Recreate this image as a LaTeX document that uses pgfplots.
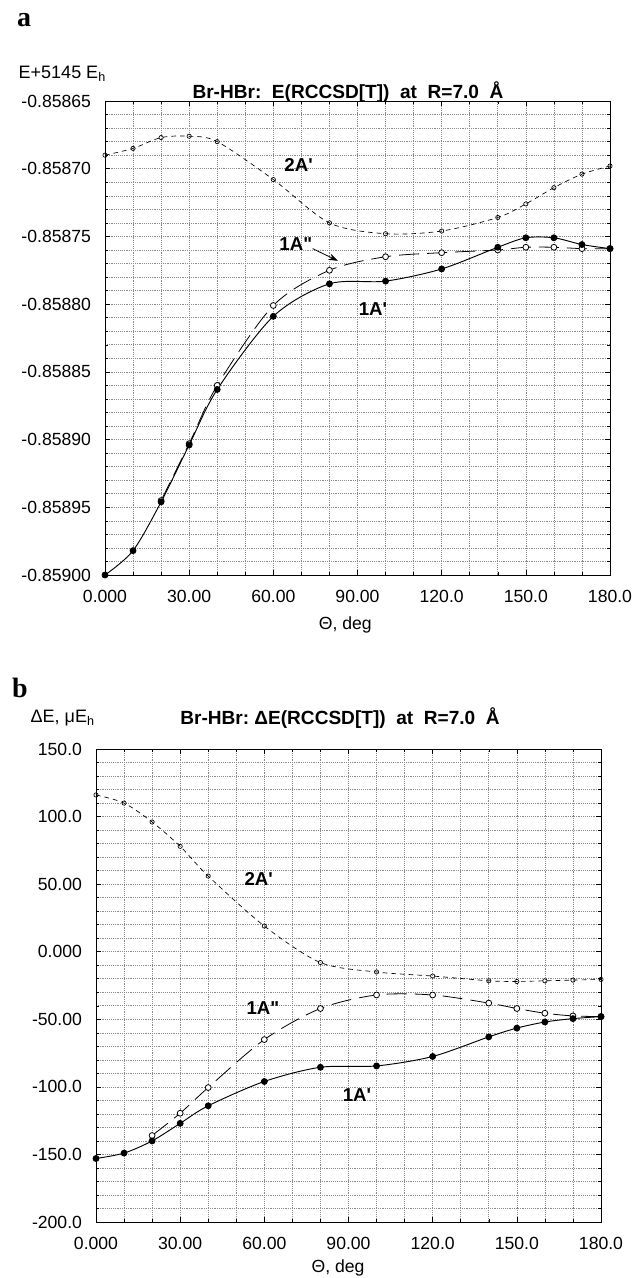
\documentclass[border=0pt]{standalone}
\usepackage{fontspec}
\setmainfont{Liberation Sans}
\newfontfamily\tnr{Liberation Serif}
\usepackage{pgfplots}
\pgfplotsset{compat=1.18}
\usetikzlibrary{arrows.meta}

% panel a: y in micro-hartree above E+5145 = -0.85900
\pgfplotsset{
  brstyle/.style={
    scale only axis, width=378.75pt, anchor=north west,
    xmin=0, xmax=180, xtick={0,30,...,180},
    xticklabels={0.000,30.00,60.00,90.00,120.0,150.0,180.0},
    minor x tick num=2, minor y tick num=4,
    grid=both,
    major grid style={densely dotted, gray!90, line width=0.45pt},
    minor grid style={densely dotted, gray!90, line width=0.45pt},
    axis line style={line width=0.7pt},
    tick align=inside, tick style={black, line width=0.4pt},
    major tick length=4pt, minor tick length=2.5pt,
    tick label style={font=\fontsize{13.2}{15}\selectfont},
    xticklabel style={yshift=-8pt},
    yticklabel style={xshift=-7pt},
    clip=false,
  },
  s2A/.style={black, line width=0.5pt, dash pattern=on 3.5pt off 3pt, smooth,
    mark=o, mark size=1.6pt, mark options={solid, fill=white}},
  s1App/.style={black, line width=0.6pt, dash pattern=on 15pt off 6pt, smooth,
    mark=*, mark size=2.2pt, mark options={solid, fill=white}},
  s1Ap/.style={black, line width=0.7pt, smooth,
    mark=*, mark size=2.2pt, mark options={fill=black}},
}
\tikzset{lbl/.style={font=\bfseries\fontsize{14}{16}\selectfont}}

\begin{document}
\begin{tikzpicture}
\path[use as bounding box] (0,0) rectangle (476.25pt,-958.5pt);

% ---- panel a ----
\node[font=\tnr\bfseries\fontsize{21}{22}\selectfont] at (18pt,-15pt) {a};
\node[anchor=west, font=\fontsize{13.5}{15}\selectfont] at (10.5pt,-55.5pt) {E+5145 E\textsubscript{h}};
\node[font=\bfseries\fontsize{14.3}{16}\selectfont] at (261pt,-69pt) {Br-HBr:\ \ E(RCCSD[T])\ \ at\ \ R=7.0\ \ Å};

\begin{axis}[brstyle, at={(78.75pt,-75.75pt)}, height=355.5pt,
  ymin=0, ymax=350, ytick={0,50,...,350},
  yticklabels={-0.85900,-0.85895,-0.85890,-0.85885,-0.85880,-0.85875,-0.85870,-0.85865}]
\addplot[s2A] coordinates {
  (0,310) (10,315) (20,323) (30,324) (40,320) (60,292) (80,260)
  (100,252) (120,254) (140,264) (150,274) (160,286) (170,296) (180,302)};
\addplot[s1App] coordinates {
  (20,55) (30,97) (40,140) (60,199) (80,225) (100,235) (120,238)
  (140,240) (150,242) (160,242) (170,241) (180,241)};
\addplot[s1Ap] coordinates {
  (0,0) (10,18) (20,54) (30,96) (40,137) (60,191) (80,215) (100,217)
  (120,226) (140,242) (150,249) (160,249) (170,244) (180,241)};
\node[lbl] at (axis cs:69,303) {2A\textquotesingle};
\node[lbl] at (axis cs:68,244) {1A\textquotedbl};
\draw[-{Stealth[length=7pt,width=5pt]}, line width=0.6pt] (axis cs:74,241) -- (axis cs:83,232);
\node[lbl] at (axis cs:95.5,196) {1A\textquotesingle};
\end{axis}
\node[font=\fontsize{13.2}{15}\selectfont] at (259pt,-469pt) {Θ, deg};

% ---- panel b ----
\node[font=\tnr\bfseries\fontsize{21}{22}\selectfont] at (15pt,-516pt) {b};
\node[anchor=west, font=\fontsize{13.5}{15}\selectfont] at (19.5pt,-538.5pt) {ΔE, μE\textsubscript{h}};
\node[font=\bfseries\fontsize{14.3}{16}\selectfont] at (255pt,-538.5pt) {Br-HBr:\ ΔE(RCCSD[T])\ \ at\ \ R=7.0\ \ Å};

\begin{axis}[brstyle, at={(72pt,-561.75pt)}, height=354.75pt,
  ymin=-200, ymax=150, ytick={-200,-150,...,150},
  yticklabels={-200.0,-150.0,-100.0,-50.00,0.000,50.00,100.0,150.0}]
\addplot[s2A] coordinates {
  (0,116) (10,110) (20,96) (30,78) (40,56) (60,19) (80,-8)
  (100,-15) (120,-18) (140,-21.5) (150,-22) (160,-21.5) (170,-21) (180,-20.5)};
\addplot[s1App] coordinates {
  (20,-136) (30,-119.5) (40,-100.5) (60,-65) (80,-42) (100,-32) (120,-32)
  (140,-38) (150,-42) (160,-45.5) (170,-47.5) (180,-48)};
\addplot[s1Ap] coordinates {
  (0,-153) (10,-149) (20,-140) (30,-127) (40,-114) (60,-96) (80,-85.5)
  (100,-84.5) (120,-77.5) (140,-63) (150,-56.5) (160,-52) (170,-49.5) (180,-48)};
\node[lbl] at (axis cs:58,54) {2A\textquotesingle};
\node[lbl] at (axis cs:59.5,-42) {1A\textquotedbl};
\node[lbl] at (axis cs:93,-106) {1A\textquotesingle};
\end{axis}
\node[font=\fontsize{13.2}{15}\selectfont] at (253.5pt,-951pt) {Θ, deg};
\end{tikzpicture}
\end{document}
